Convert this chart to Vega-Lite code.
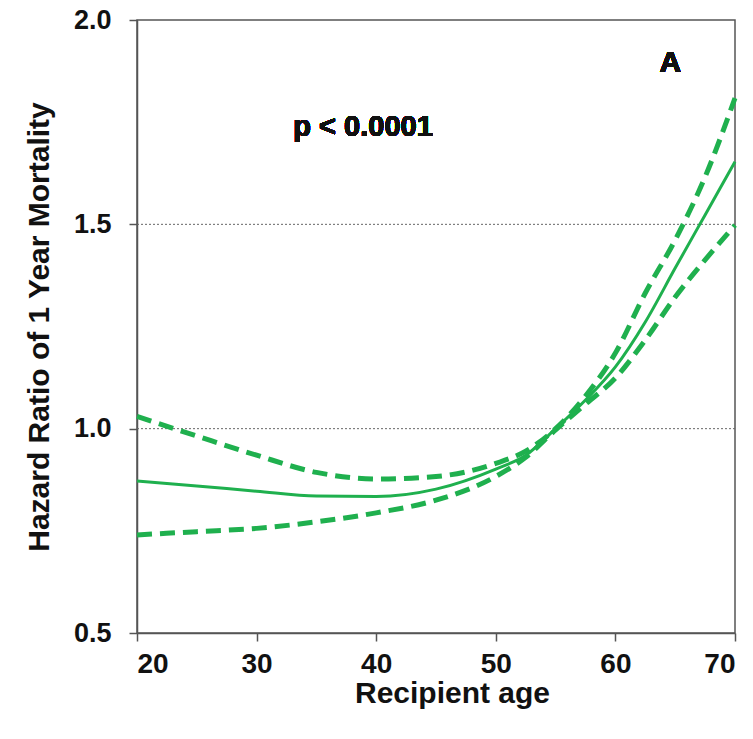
{
  "$schema": "https://vega.github.io/schema/vega-lite/v6.json",
  "width": 598,
  "height": 613,
  "autosize": "none",
  "padding": {"left": 137, "top": 20, "right": 18, "bottom": 106},
  "background": "white",
  "config": {
    "view": {"stroke": "#555555", "strokeWidth": 1.5},
    "font": "Liberation Sans"
  },
  "data": {
    "values": [
      {"age": 20, "hr": 0.872, "series": "estimate"},
      {"age": 25, "hr": 0.86, "series": "estimate"},
      {"age": 30, "hr": 0.847, "series": "estimate"},
      {"age": 35, "hr": 0.835, "series": "estimate"},
      {"age": 40, "hr": 0.834, "series": "estimate"},
      {"age": 45, "hr": 0.852, "series": "estimate"},
      {"age": 50, "hr": 0.901, "series": "estimate"},
      {"age": 52.5, "hr": 0.935, "series": "estimate"},
      {"age": 55, "hr": 1.0, "series": "estimate"},
      {"age": 57.5, "hr": 1.07, "series": "estimate"},
      {"age": 60, "hr": 1.151, "series": "estimate"},
      {"age": 62.5, "hr": 1.261, "series": "estimate"},
      {"age": 65, "hr": 1.393, "series": "estimate"},
      {"age": 67.5, "hr": 1.523, "series": "estimate"},
      {"age": 70, "hr": 1.653, "series": "estimate"},
      {"age": 20, "hr": 1.03, "series": "upper"},
      {"age": 25, "hr": 0.982, "series": "upper"},
      {"age": 30, "hr": 0.935, "series": "upper"},
      {"age": 35, "hr": 0.893, "series": "upper"},
      {"age": 40, "hr": 0.877, "series": "upper"},
      {"age": 45, "hr": 0.883, "series": "upper"},
      {"age": 50, "hr": 0.915, "series": "upper"},
      {"age": 52.5, "hr": 0.945, "series": "upper"},
      {"age": 55, "hr": 1.0, "series": "upper"},
      {"age": 57.5, "hr": 1.08, "series": "upper"},
      {"age": 60, "hr": 1.185, "series": "upper"},
      {"age": 62.5, "hr": 1.332, "series": "upper"},
      {"age": 65, "hr": 1.462, "series": "upper"},
      {"age": 67.5, "hr": 1.616, "series": "upper"},
      {"age": 70, "hr": 1.809, "series": "upper"},
      {"age": 20, "hr": 0.74, "series": "lower"},
      {"age": 25, "hr": 0.748, "series": "lower"},
      {"age": 30, "hr": 0.756, "series": "lower"},
      {"age": 35, "hr": 0.772, "series": "lower"},
      {"age": 40, "hr": 0.794, "series": "lower"},
      {"age": 45, "hr": 0.825, "series": "lower"},
      {"age": 50, "hr": 0.883, "series": "lower"},
      {"age": 52.5, "hr": 0.93, "series": "lower"},
      {"age": 55, "hr": 0.997, "series": "lower"},
      {"age": 57.5, "hr": 1.06, "series": "lower"},
      {"age": 60, "hr": 1.124, "series": "lower"},
      {"age": 62.5, "hr": 1.217, "series": "lower"},
      {"age": 65, "hr": 1.322, "series": "lower"},
      {"age": 67.5, "hr": 1.413, "series": "lower"},
      {"age": 70, "hr": 1.498, "series": "lower"}
    ]
  },
  "layer": [
    {
      "mark": {"type": "rule", "color": "#666666", "strokeWidth": 1, "strokeDash": [2, 2]},
      "data": {"values": [{"g": 1.0}, {"g": 1.5}]},
      "encoding": {"y": {"field": "g", "type": "quantitative"}}
    },
    {
      "transform": [{"filter": "datum.series !== 'estimate'"}],
      "mark": {"type": "line", "color": "#1fb04e", "strokeWidth": 5, "strokeDash": [15, 8], "interpolate": "monotone"},
      "encoding": {
        "x": {"field": "age", "type": "quantitative"},
        "y": {"field": "hr", "type": "quantitative"},
        "detail": {"field": "series"}
      }
    },
    {
      "transform": [{"filter": "datum.series === 'estimate'"}],
      "mark": {"type": "line", "color": "#1fb04e", "strokeWidth": 3, "interpolate": "monotone"},
      "encoding": {
        "x": {
          "field": "age", "type": "quantitative",
          "scale": {"domain": [20, 70], "nice": false, "zero": false},
          "axis": {
            "values": [20, 30, 40, 50, 60, 70], "grid": false,
            "title": "Recipient age", "titleFontSize": 30, "titleFontWeight": "bold", "titleColor": "#111111", "titlePadding": 0, "titleX": 315,
            "labelFontSize": 28, "labelFontWeight": "bold", "labelColor": "#111111", "labelPadding": 9,
            "domainColor": "#555555", "domainWidth": 1.5, "tickColor": "#555555", "tickSize": 8, "tickWidth": 1.5
          }
        },
        "y": {
          "field": "hr", "type": "quantitative",
          "scale": {"domain": [0.5, 2.0], "nice": false, "zero": false},
          "axis": {
            "values": [0.5, 1.0, 1.5, 2.0], "format": ".1f", "grid": false,
            "title": "Hazard Ratio of 1 Year Mortality", "titleFontSize": 30, "titleFontWeight": "bold", "titleColor": "#111111", "titlePadding": 19,
            "labelFontSize": 27, "labelFontWeight": "bold", "labelColor": "#111111", "labelPadding": 18,
            "domainColor": "#555555", "domainWidth": 1.5, "tickColor": "#555555", "tickSize": 8, "tickWidth": 1.5
          }
        }
      }
    },
    {
      "mark": {"type": "text", "text": "p < 0.0001", "fontSize": 29, "fontWeight": "bold", "color": "#111111", "align": "center", "baseline": "middle"},
      "encoding": {"x": {"datum": 38.9}, "y": {"datum": 1.739}}
    },
    {
      "mark": {"type": "text", "text": "A", "fontSize": 30, "fontWeight": "bold", "color": "#111111", "align": "center", "baseline": "middle"},
      "encoding": {"x": {"datum": 64.6}, "y": {"datum": 1.894}}
    }
  ]
}
